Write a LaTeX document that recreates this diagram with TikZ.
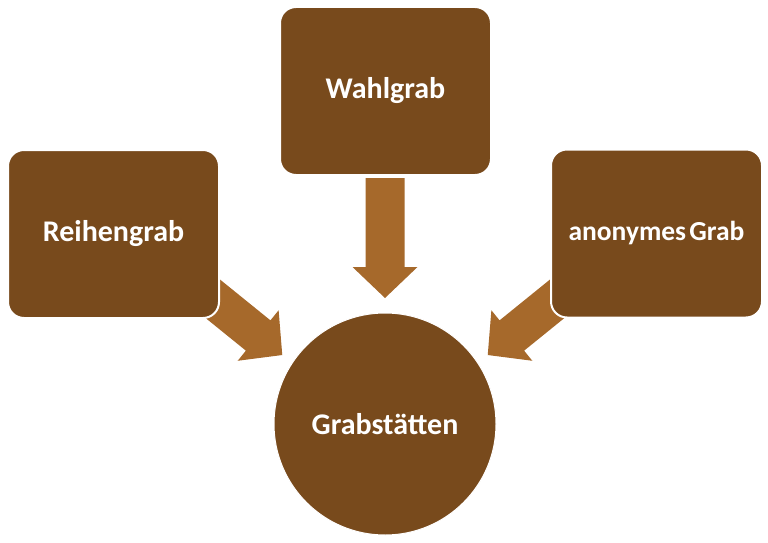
\documentclass[tikz,border=0pt]{standalone}
\usepackage{fontspec}
\setmainfont{Carlito}
\definecolor{boxbrown}{RGB}{120,74,28}
\definecolor{arrbrown}{RGB}{166,105,43}
\begin{document}
\begin{tikzpicture}[x=1pt,y=-1pt,
  gbox/.style={draw=white,line width=2pt,fill=boxbrown,rounded corners=16pt,
    minimum width=211pt,minimum height=168pt,inner sep=0pt,text=white,font=\bfseries\fontsize{30}{36}\selectfont},
  gcirc/.style={draw=white,line width=1pt,fill=boxbrown,circle,minimum size=222pt,inner sep=0pt,text=white,font=\bfseries\fontsize{30}{36}\selectfont},
  blockarrow/.style={fill=arrbrown,draw=none}]
\useasboundingbox (0,0) rectangle (768,543);
% block arrows (drawn first, boxes overlap their tails)
\coordinate (tl) at (189,279.5);
\coordinate (tt) at (385,178);
\coordinate (tr) at (581,279.5);
\foreach \c/\a in {tl/-39, tt/-90, tr/-141}{
  \begin{scope}[shift={(\c)},rotate=\a]
    \fill[blockarrow] (0,-19.5) -- (89,-19.5) -- (89,-32.5) -- (120,0) -- (89,32.5) -- (89,19.5) -- (0,19.5) -- cycle;
  \end{scope}
}
\node[gbox] (wahl) at (385.5,91) {Wahlgrab};
\node[gbox] (reihe) at (113.5,234) {Reihengrab};
\node[gbox,font=\bfseries\fontsize{27.5}{32}\selectfont] (anon) at (656.5,233.5) {anonymes\hspace{-3pt} Grab};
\node[gcirc] (grab) at (385,424) {Grabstätten};
\end{tikzpicture}
\end{document}
